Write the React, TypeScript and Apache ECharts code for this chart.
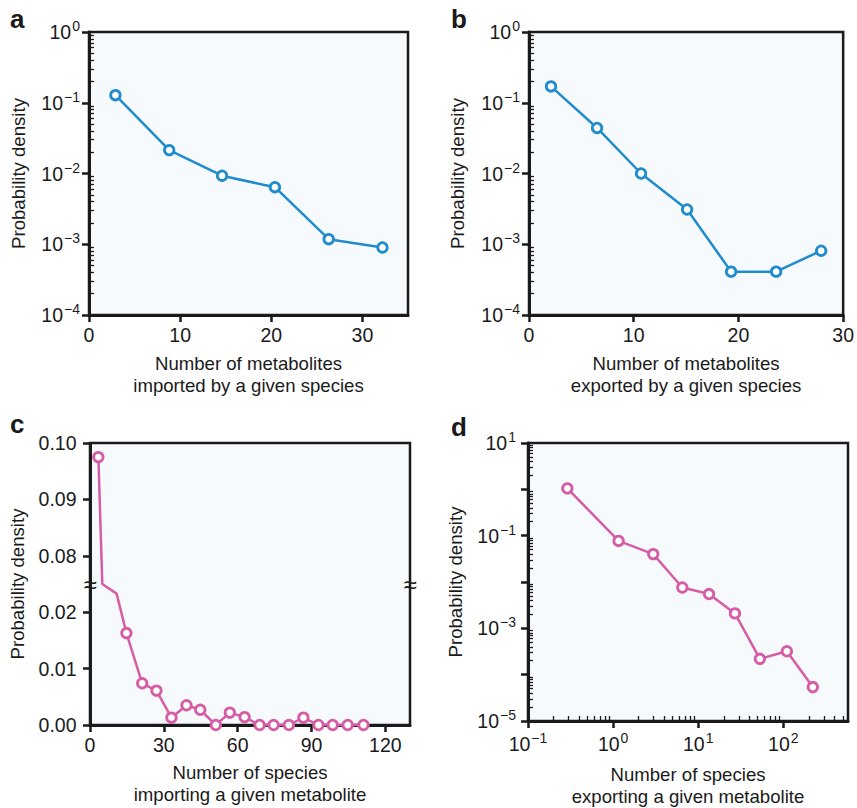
import React, { useEffect, useRef } from 'react';
import * as echarts from 'echarts';

const FONT = '"Liberation Sans", Arial, Helvetica, sans-serif';
const BLUE = '#1e8ccd';
const PINK = '#d65ca6';
const INK = '#1a1a1a';
const PLOT_BG = '#f7fafd';
const TICK_FS = 19.5;
const TITLE_FS = 18.6;

// Panel a: metabolites imported by a given species
const importedCounts = [2.9, 8.8, 14.6, 20.4, 26.3, 32.2];
const importedDensity = [0.128, 0.0214, 0.0093, 0.0064, 0.00118, 0.0009];

// Panel b: metabolites exported by a given species
const exportedCounts = [2.1, 6.5, 10.7, 15.1, 19.3, 23.6, 27.9];
const exportedDensity = [0.17, 0.044, 0.01, 0.0031, 0.00041, 0.00041, 0.00081];

// Panel c: species importing a given metabolite (broken y axis)
const importingSpecies = [3.4, 5.0, 10.8, 14.8, 21.2, 27.0, 33.1, 39.2, 44.8, 51.1, 56.8, 62.8, 68.9, 74.6, 80.8, 86.7, 92.8, 98.6, 104.7, 111.1];
const importingDensity = [0.0975, 0.05, 0.0233, 0.0163, 0.0074, 0.0061, 0.0013, 0.0035, 0.0027, 0, 0.0022, 0.0014, 0, 0, 0, 0.0013, 0, 0, 0, 0];
const importingMarkerHidden = [false, true, true, false, false, false, false, false, false, false, false, false, false, false, false, false, false, false, false, false];

// Panel d: species exporting a given metabolite
const exportingSpecies = [0.29, 1.16, 2.96, 6.5, 13.4, 27, 53, 110, 222];
const exportingDensity = [1.05, 0.077, 0.04, 0.0076, 0.0055, 0.0021, 0.00022, 0.00032, 0.000054];

// Tick labels / tick positions
const xTicksA = [0, 10, 20, 30];
const xTicksB = [0, 10, 20, 30];
const xTicksC = [0, 30, 60, 90, 120];
const yTicksC = [0, 0.01, 0.02, 0.08, 0.09, 0.1];
const yTicksAB = [1e-4, 1e-3, 1e-2, 1e-1, 1];
const yTicksD = [1e-5, 1e-4, 1e-3, 1e-2, 1e-1, 1, 10];
const yLabelsD = [1e-5, 1e-3, 1e-1, 10];
const xTicksD = [0.1, 1, 10, 100];

function minorLogTicks(loExp: number, hiExp: number, max: number) {
  const out: number[] = [];
  for (let e = loExp; e < hiExp; e++) {
    for (let m = 2; m <= 9; m++) {
      const v = m * Math.pow(10, e);
      if (v < max) out.push(v);
    }
  }
  return out;
}

const powLabel = (v: number) => {
  const e = Math.round(Math.log10(v));
  return `{b|10}{s|${e < 0 ? '\u2212' + -e : e}}`;
};
const powRich = {
  b: { fontSize: TICK_FS, lineHeight: 26, fontFamily: FONT, color: INK },
  s: { fontSize: 14, lineHeight: 15, verticalAlign: 'top', fontFamily: FONT, color: INK, padding: [0, 0, 0, 1] },
};

const axisLineStyle = { show: true, lineStyle: { color: INK, width: 3 } };
const majorTick = (values: number[]) => ({
  show: true,
  inside: false,
  length: 7,
  lineStyle: { color: INK, width: 2.5 },
  customValues: values,
});

function yTitle(gap: number) {
  return {
    name: 'Probability density',
    nameLocation: 'middle',
    nameRotate: 90,
    nameGap: gap,
    nameTextStyle: { fontSize: TITLE_FS, fontFamily: FONT, color: INK, lineHeight: 22 },
  };
}
function xTitle(text: string, gap: number) {
  return {
    name: text,
    nameLocation: 'middle',
    nameGap: gap,
    nameTextStyle: { fontSize: TITLE_FS, fontFamily: FONT, color: INK, lineHeight: 22 },
  };
}

function minorOverlay(kind: 'x' | 'y', grid: number, min: number, max: number, values: number[]) {
  return {
    gridIndex: grid,
    type: 'log',
    logBase: 10,
    min,
    max,
    position: kind === 'x' ? 'bottom' : 'left',
    axisLine: { show: false },
    axisLabel: { show: false },
    splitLine: { show: false },
    axisTick: { show: true, inside: true, length: 5, lineStyle: { color: INK, width: 1.3 }, customValues: values },
  };
}

function lineSeries(xi: number, yi: number, xs: number[], ys: number[], color: string, hidden?: boolean[]) {
  return {
    type: 'line',
    xAxisIndex: xi,
    yAxisIndex: yi,
    data: xs.map((x, i) =>
      hidden && hidden[i] ? { value: [x, ys[i]], symbol: 'none' } : { value: [x, ys[i]] }
    ),
    symbol: 'circle',
    symbolSize: 9.5,
    color,
    lineStyle: { color, width: 2.5 },
    itemStyle: { color: '#ffffff', borderColor: color, borderWidth: 2.8 },
    z: 5,
  };
}

const gridBase = { show: true, backgroundColor: PLOT_BG, borderColor: INK, borderWidth: 2.5, containLabel: false };

function letter(id: string, t: string, x: number, y: number) {
  return {
    id,
    type: 'text',
    x,
    y,
    style: { text: t, fontSize: 26, fontWeight: 'bold', fontFamily: FONT, fill: INK, verticalAlign: 'middle' },
  };
}

const labelBase = { fontSize: TICK_FS, fontFamily: FONT, color: INK };

export default function App() {
  const ref = useRef<HTMLDivElement>(null);
  useEffect(() => {
    document.body.style.margin = '0';
    if (!ref.current) return;
    const chart = echarts.init(ref.current, undefined, { renderer: 'svg' });
    const option: any = {
      animation: false,
      grid: [
        { ...gridBase, left: 89, top: 32, width: 319, height: 283 },
        { ...gridBase, left: 529, top: 32, width: 318, height: 283 },
        { ...gridBase, left: 90, top: 443, width: 320, height: 282 },
        { ...gridBase, left: 528, top: 443, width: 320, height: 282 },
      ],
      xAxis: [
        {
          gridIndex: 0, type: 'value', min: 0, max: 35,
          ...xTitle('Number of metabolites\nimported by a given species', 37),
          axisLine: axisLineStyle, axisTick: majorTick(xTicksA), splitLine: { show: false },
          axisLabel: { ...labelBase, customValues: xTicksA, margin: 10 },
        },
        {
          gridIndex: 1, type: 'value', min: 0, max: 30,
          ...xTitle('Number of metabolites\nexported by a given species', 37),
          axisLine: axisLineStyle, axisTick: majorTick(xTicksB), splitLine: { show: false },
          axisLabel: { ...labelBase, customValues: xTicksB, margin: 10 },
        },
        {
          gridIndex: 2, type: 'value', min: 0, max: 130,
          ...xTitle('Number of species\nimporting a given metabolite', 36),
          axisLine: axisLineStyle, axisTick: majorTick(xTicksC), splitLine: { show: false },
          axisLabel: { ...labelBase, customValues: xTicksC, margin: 10 },
        },
        {
          gridIndex: 3, type: 'log', logBase: 10, min: 0.1, max: 575,
          ...xTitle('Number of species\nexporting a given metabolite', 42),
          axisLine: axisLineStyle, axisTick: majorTick(xTicksD), splitLine: { show: false },
          axisLabel: { ...labelBase, customValues: xTicksD, margin: 10, formatter: powLabel, rich: powRich },
        },
        minorOverlay('x', 3, 0.1, 575, minorLogTicks(-1, 3, 575)),
      ],
      yAxis: [
        {
          gridIndex: 0, type: 'log', logBase: 10, min: 1e-4, max: 1,
          ...yTitle(60),
          axisLine: axisLineStyle, axisTick: majorTick(yTicksAB), splitLine: { show: false },
          axisLabel: { ...labelBase, customValues: yTicksAB, margin: 9, formatter: powLabel, rich: powRich },
        },
        {
          gridIndex: 1, type: 'log', logBase: 10, min: 1e-4, max: 1,
          ...yTitle(61),
          axisLine: axisLineStyle, axisTick: majorTick(yTicksAB), splitLine: { show: false },
          axisLabel: { ...labelBase, customValues: yTicksAB, margin: 9, formatter: powLabel, rich: powRich },
        },
        {
          gridIndex: 2, type: 'value', min: 0, max: 0.1,
          breaks: [{ start: 0.025, end: 0.075, gap: 0 }],
          breakArea: { show: false },
          ...yTitle(62),
          axisLine: axisLineStyle, axisTick: majorTick(yTicksC), splitLine: { show: false },
          axisLabel: { ...labelBase, customValues: yTicksC, margin: 13.5, formatter: (v: number) => v.toFixed(2) },
        },
        {
          gridIndex: 3, type: 'log', logBase: 10, min: 1e-5, max: 10,
          ...yTitle(62),
          axisLine: axisLineStyle, axisTick: majorTick(yTicksD), splitLine: { show: false },
          axisLabel: { ...labelBase, customValues: yLabelsD, margin: 12, formatter: powLabel, rich: powRich },
        },
        minorOverlay('y', 0, 1e-4, 1, minorLogTicks(-4, 0, 1)),
        minorOverlay('y', 1, 1e-4, 1, minorLogTicks(-4, 0, 1)),
        minorOverlay('y', 3, 1e-5, 10, minorLogTicks(-5, 1, 10)),
      ],
      series: [
        lineSeries(0, 0, importedCounts, importedDensity, BLUE),
        lineSeries(1, 1, exportedCounts, exportedDensity, BLUE),
        lineSeries(2, 2, importingSpecies, importingDensity, PINK, importingMarkerHidden),
        lineSeries(3, 3, exportingSpecies, exportingDensity, PINK),
      ],
      graphic: [
        letter('la', 'a', 10, 19),
        letter('lb', 'b', 451, 19),
        letter('lc', 'c', 10, 424),
        letter('ld', 'd', 451, 427),
      ],
    };
    chart.setOption(option);

    const yBreak = chart.convertToPixel({ yAxisIndex: 2 } as any, 0.025) as unknown as number;
    const xLeft = chart.convertToPixel({ xAxisIndex: 2 } as any, 0) as unknown as number;
    const xRight = chart.convertToPixel({ xAxisIndex: 2 } as any, 130) as unknown as number;
    if (isFinite(yBreak) && isFinite(xLeft) && isFinite(xRight)) {
      const mark = (id: string, x: number) => ({
        id,
        type: 'text',
        x,
        y: yBreak,
        z: 100,
        style: { text: '\u2248', fontSize: 24, fontFamily: FONT, fill: INK, align: 'center', verticalAlign: 'middle' },
      });
      chart.setOption({ graphic: [mark('bl', xLeft), mark('br', xRight)] });
    }
    return () => chart.dispose();
  }, []);
  return <div ref={ref} style={{ width: 857, height: 808 }} />;
}
